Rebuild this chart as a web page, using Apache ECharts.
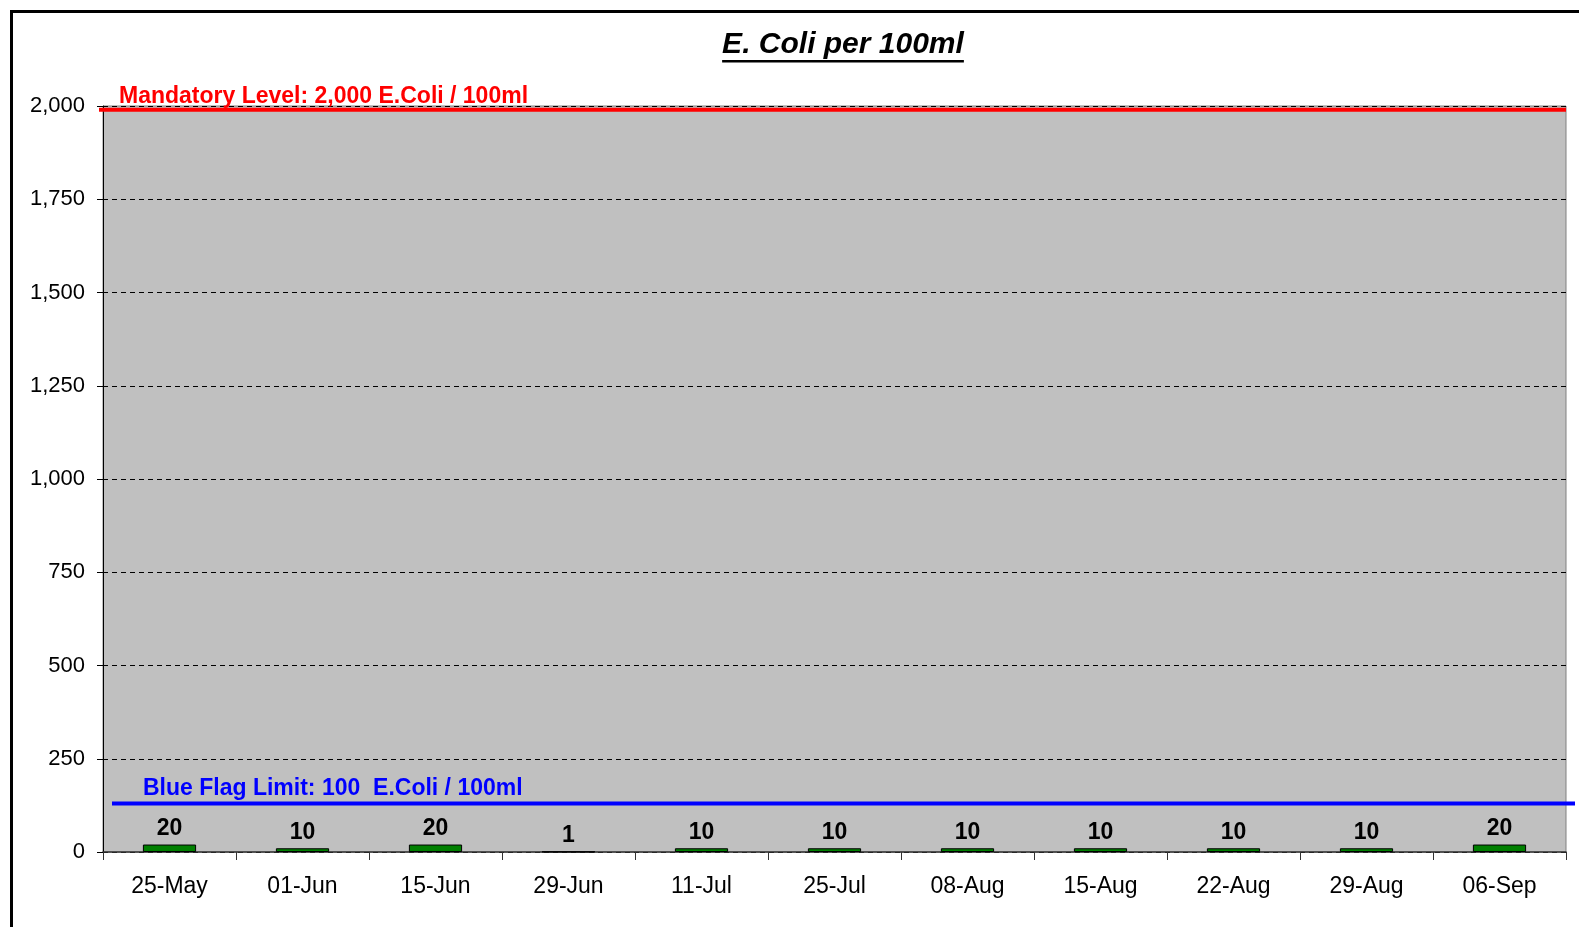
<!DOCTYPE html>
<html>
<head>
<meta charset="utf-8">
<script src="https://cdn.jsdelivr.net/npm/echarts@6/dist/echarts.min.js"></script>
<style>
  html, body { margin: 0; padding: 0; background: #fff; }
  #chart { width: 1579px; height: 927px; }
</style>
</head>
<body>
<div id="chart"></div>
<script>
const titleText = 'E. Coli per 100ml';
const categories = ['25-May', '01-Jun', '15-Jun', '29-Jun', '11-Jul', '25-Jul', '08-Aug', '15-Aug', '22-Aug', '29-Aug', '06-Sep'];
const ecoliValues = [20, 10, 20, 1, 10, 10, 10, 10, 10, 10, 20];
const yTicks = [0, 250, 500, 750, 1000, 1250, 1500, 1750, 2000];
const mandatoryLabel = 'Mandatory Level: 2,000 E.Coli / 100ml';
const mandatoryLineValue = 1990;
const blueFlagLabel = 'Blue Flag Limit: 100  E.Coli / 100ml';
const blueFlagLineValue = 130;

const FONT = '"Liberation Sans", Arial, Helvetica, sans-serif';

const chart = echarts.init(document.getElementById('chart'), null, { renderer: 'canvas' });

const option = {
  backgroundColor: '#ffffff',
  animation: false,
  grid: {
    left: 103, right: 13, top: 106, bottom: 75,
    show: true, backgroundColor: '#C0C0C0', borderColor: '#808080', borderWidth: 1
  },
  xAxis: {
    type: 'category',
    data: categories,
    boundaryGap: true,
    axisLine: { show: true, lineStyle: { color: '#333333', width: 1.5 } },
    axisTick: { show: true, alignWithLabel: false, length: 8, lineStyle: { color: '#333333' } },
    axisLabel: { color: '#000', fontFamily: FONT, fontSize: 23, margin: 23 },
    splitLine: { show: false }
  },
  yAxis: {
    type: 'value',
    min: yTicks[0],
    max: yTicks[yTicks.length - 1],
    interval: yTicks[1] - yTicks[0],
    axisLine: { show: true, lineStyle: { color: '#000', width: 1 } },
    axisTick: { show: true, length: 6, lineStyle: { color: '#000' } },
    axisLabel: {
      color: '#000', fontFamily: FONT, fontSize: 22, margin: 18,
      formatter: v => v.toLocaleString('en-US')
    },
    splitLine: { show: true, lineStyle: { color: '#000', type: [5, 4], width: 1 } }
  },
  series: [{
    type: 'bar',
    data: ecoliValues,
    barWidth: '40%',
    itemStyle: { color: '#008000', borderColor: '#000', borderWidth: 1 },
    label: {
      show: true, position: 'top', distance: 4,
      color: '#000', fontFamily: FONT, fontSize: 23, fontWeight: 'bold'
    }
  }]
};
chart.setOption(option);

// measure title width for the underline
const ctx = document.createElement('canvas').getContext('2d');
const titleFont = 'italic bold 30px ' + FONT;
ctx.font = titleFont;
const titleW = ctx.measureText(titleText).width;
const titleCx = 843;

const yRed = chart.convertToPixel({ yAxisIndex: 0 }, mandatoryLineValue);
const yBlue = chart.convertToPixel({ yAxisIndex: 0 }, blueFlagLineValue);
const plotLeft = 103, plotRight = 1566;

chart.setOption({
  graphic: [
    { type: 'rect', shape: { x: 11.5, y: 11.5, width: 1700, height: 1100 },
      style: { fill: 'none', stroke: '#000', lineWidth: 3 }, silent: true },
    { type: 'text', x: titleCx, y: 45,
      style: { text: titleText, font: titleFont, fill: '#000', textAlign: 'center', textVerticalAlign: 'middle' } },
    { type: 'rect', shape: { x: titleCx - titleW / 2, y: 60, width: titleW, height: 2.5 },
      style: { fill: '#000' } },
    { type: 'line', shape: { x1: plotLeft - 4, y1: yRed, x2: plotRight, y2: yRed },
      style: { stroke: '#FF0000', lineWidth: 4 }, z: 100 },
    { type: 'text', x: 119, y: yRed - 13,
      style: { text: mandatoryLabel, font: 'bold 23px ' + FONT, fill: '#FF0000', textVerticalAlign: 'middle' }, z: 100 },
    { type: 'line', shape: { x1: plotLeft + 9, y1: yBlue, x2: plotRight + 9, y2: yBlue },
      style: { stroke: '#0000FF', lineWidth: 4 }, z: 100 },
    { type: 'text', x: 143, y: yBlue - 15,
      style: { text: blueFlagLabel, font: 'bold 23px ' + FONT, fill: '#0000FF', textVerticalAlign: 'middle' }, z: 100 }
  ]
});
</script>
</body>
</html>
